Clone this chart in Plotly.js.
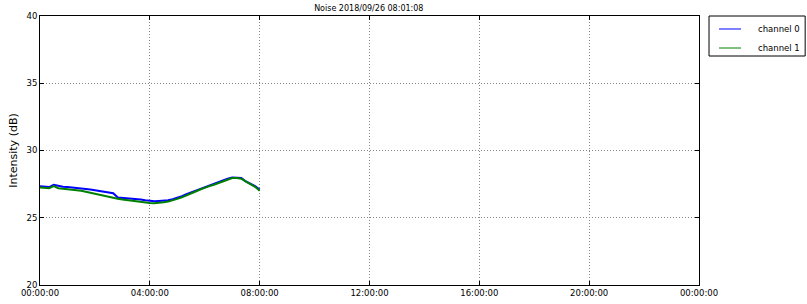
<!DOCTYPE html>
<html>
<head>
<meta charset="utf-8">
<script src="https://cdn.plot.ly/plotly-3.0.1.min.js"></script>
<style>html,body{margin:0;padding:0;background:#fff;}#chart{width:807px;height:304px;}</style>
</head>
<body>
<div id="chart"></div>
<script>
const times = [
  "2018-09-26 00:00","2018-09-26 00:10","2018-09-26 00:20","2018-09-26 00:30","2018-09-26 00:40","2018-09-26 00:50",
  "2018-09-26 01:00","2018-09-26 01:10","2018-09-26 01:20","2018-09-26 01:30","2018-09-26 01:40","2018-09-26 01:50",
  "2018-09-26 02:00","2018-09-26 02:10","2018-09-26 02:20","2018-09-26 02:30","2018-09-26 02:40","2018-09-26 02:50",
  "2018-09-26 03:00","2018-09-26 03:10","2018-09-26 03:20","2018-09-26 03:30","2018-09-26 03:40","2018-09-26 03:50",
  "2018-09-26 04:00","2018-09-26 04:10","2018-09-26 04:20","2018-09-26 04:30","2018-09-26 04:40","2018-09-26 04:50",
  "2018-09-26 05:00","2018-09-26 05:10","2018-09-26 05:20","2018-09-26 05:30","2018-09-26 05:40","2018-09-26 05:50",
  "2018-09-26 06:00","2018-09-26 06:10","2018-09-26 06:20","2018-09-26 06:30","2018-09-26 06:40","2018-09-26 06:50",
  "2018-09-26 07:00","2018-09-26 07:10","2018-09-26 07:20","2018-09-26 07:30","2018-09-26 07:40","2018-09-26 07:50",
  "2018-09-26 08:00"
];
const channel0 = [
  27.35,27.30,27.28,27.45,27.35,27.30,
  27.28,27.25,27.22,27.20,27.15,27.10,
  27.05,27.00,26.95,26.88,26.82,26.50,
  26.48,26.45,26.42,26.40,26.35,26.30,
  26.25,26.22,26.25,26.27,26.30,26.38,
  26.48,26.60,26.75,26.88,27.00,27.12,
  27.28,27.40,27.50,27.62,27.75,27.90,
  28.00,28.00,27.95,27.70,27.55,27.35,
  27.10
];
const channel1 = [
  27.25,27.22,27.20,27.35,27.20,27.15,
  27.12,27.08,27.03,27.00,26.93,26.85,
  26.78,26.70,26.62,26.55,26.48,26.42,
  26.35,26.30,26.28,26.25,26.20,26.15,
  26.10,26.08,26.10,26.15,26.20,26.28,
  26.40,26.52,26.68,26.82,26.95,27.10,
  27.25,27.35,27.45,27.58,27.72,27.85,
  27.95,27.95,27.90,27.68,27.50,27.30,
  27.00
];
const seriesNames = ["channel 0", "channel 1"];
const seriesColors = ["#0000ff", "#008000"];
const titleText = "Noise 2018/09/26 08:01:08";
const yLabel = "Intensity (dB)";

const font = "DejaVu Sans, sans-serif";
const data = [
  {x: times, y: channel0, name: seriesNames[0], type: "scatter", mode: "lines",
   line: {color: seriesColors[0], width: 2}},
  {x: times, y: channel1, name: seriesNames[1], type: "scatter", mode: "lines",
   line: {color: seriesColors[1], width: 2}}
];
const axisCommon = {
  showline: true, linecolor: "#000", linewidth: 1, mirror: "ticks",
  ticks: "inside", ticklen: 4, tickcolor: "#000",
  showgrid: true, gridcolor: "#888", griddash: "1px,2px", gridwidth: 1,
  zeroline: false, tickfont: {family: font, size: 8.5, color: "#000"}
};

// manual legend (matplotlib-style box outside the axes)
const legRows = [0.9517, 0.8810];
const shapes = [
  {type: "rect", xref: "paper", yref: "paper", x0: 1.0152, x1: 1.1611, y0: 0.8513, y1: 1,
   line: {color: "#000", width: 1}, fillcolor: "#fff"}
];
const annotations = [];
seriesNames.forEach((n, i) => {
  shapes.push({type: "line", xref: "paper", yref: "paper", x0: 1.0304, x1: 1.0638,
               y0: legRows[i], y1: legRows[i], line: {color: seriesColors[i], width: 1}});
  annotations.push({xref: "paper", yref: "paper", x: 1.0866, y: legRows[i], xanchor: "left",
                    yanchor: "middle", showarrow: false, text: n,
                    font: {family: font, size: 8.5, color: "#000"}});
});

const layout = {
  width: 807, height: 304,
  margin: {l: 40, r: 108, t: 16, b: 19},
  paper_bgcolor: "#fff", plot_bgcolor: "#fff",
  font: {family: font, color: "#000"},
  title: {text: titleText, font: {family: font, size: 8, color: "#000"},
          x: 0.457, xanchor: "center", y: 0.974, yanchor: "middle"},
  xaxis: Object.assign({}, axisCommon, {
    type: "date",
    range: ["2018-09-26 00:00:00", "2018-09-27 00:00:00"],
    tick0: "2018-09-26 00:00:00", dtick: 4 * 3600000,
    tickformat: "%H:%M:%S"
  }),
  yaxis: Object.assign({}, axisCommon, {
    range: [20, 40], dtick: 5,
    title: {text: yLabel, font: {family: font, size: 11, color: "#000"}, standoff: 6}
  }),
  showlegend: false,
  shapes: shapes,
  annotations: annotations
};
Plotly.newPlot("chart", data, layout, {displayModeBar: false, staticPlot: true});
</script>
</body>
</html>
